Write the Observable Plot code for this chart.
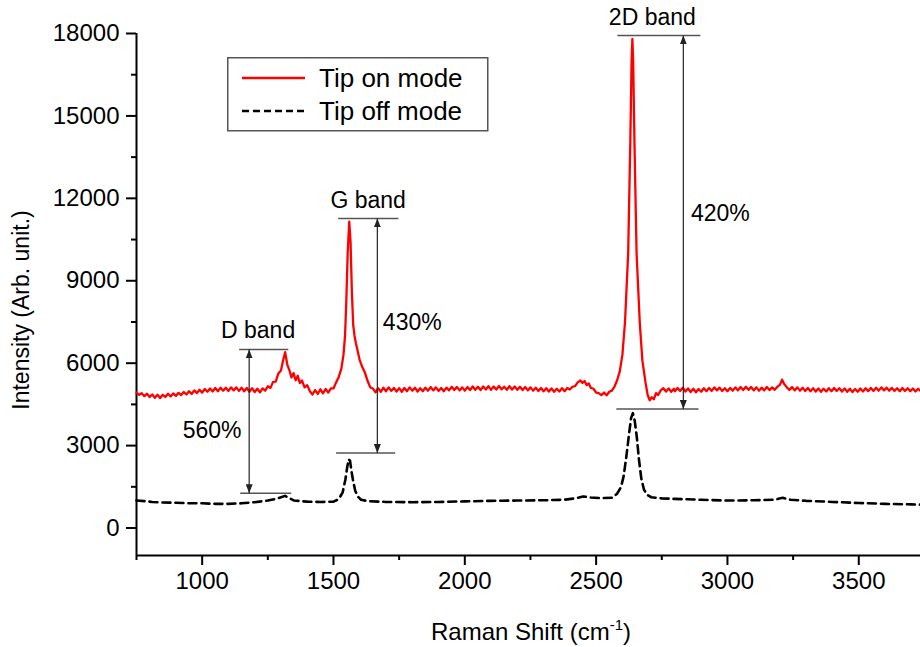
<!DOCTYPE html>
<html><head><meta charset="utf-8">
<script src="https://cdn.jsdelivr.net/npm/d3@7"></script>
<script src="https://cdn.jsdelivr.net/npm/@observablehq/plot@0.6"></script>
<style>
body{margin:0;background:#fff;}
#wrap{position:relative;width:920px;height:647px;font-family:"Liberation Sans",Arial,sans-serif;}
#legend{position:absolute;left:227px;top:57px;}
</style></head>
<body><div id="wrap"></div>
<script>
// Tip on mode spectrum: [Raman shift (cm-1), intensity]
const tipOn = [
[750,4930],[760,4850],[770,4910],[780,4800],[790,4890],[800,4770],[810,4860],[820,4740],[830,4850],[840,4730],
[850,4850],[860,4770],[870,4890],[880,4790],[890,4900],[900,4810],[910,4920],[920,4840],[930,4950],[940,4860],
[950,4980],[960,4880],[970,5010],[980,4910],[990,5030],[1000,4930],[1010,5060],[1020,4960],[1030,5080],[1040,4970],
[1050,5100],[1060,4980],[1070,5110],[1080,5000],[1090,5110],[1100,4990],[1110,5120],[1120,5010],[1130,5120],[1140,4990],
[1150,5110],[1160,4980],[1170,5100],[1180,4960],[1190,5090],[1200,4950],[1210,5070],[1220,4940],[1230,5080],[1240,5000],
[1250,5160],[1260,5100],[1270,5320],[1280,5330],[1290,5620],[1300,5730],[1308,6100],[1316,6400],[1324,5950],[1332,5750],
[1340,5480],[1348,5640],[1356,5380],[1364,5540],[1372,5280],[1380,5370],[1390,5120],[1400,5200],[1410,4980],[1420,4860],
[1430,5020],[1440,4880],[1450,5050],[1460,4900],[1470,5060],[1480,4930],[1490,5080],[1500,5080],[1510,5300],[1520,5500],
[1530,5800],[1538,6300],[1544,7000],[1549,8300],[1554,10000],[1560,11150],[1565,10400],[1570,8600],[1575,7400],[1580,7000],
[1586,6700],[1592,6450],[1600,6100],[1610,5850],[1620,5650],[1630,5350],[1640,5120],[1650,5080],[1660,4940],[1670,5090],
[1680,4960],[1690,5110],[1700,4980],[1710,5120],[1720,4990],[1730,5100],[1740,4970],[1750,5090],[1760,4960],[1770,5100],
[1780,4980],[1790,5120],[1800,5000],[1810,5110],[1820,4970],[1830,5090],[1840,4980],[1850,5110],[1860,5000],[1870,5130],
[1880,5010],[1890,5120],[1900,4990],[1910,5100],[1920,4980],[1930,5110],[1940,5010],[1950,5140],[1960,5020],[1970,5130],
[1980,5010],[1990,5120],[2000,5000],[2010,5130],[2020,5020],[2030,5150],[2040,5030],[2050,5140],[2060,5020],[2070,5150],
[2080,5040],[2090,5160],[2100,5030],[2110,5150],[2120,5040],[2130,5170],[2140,5050],[2150,5140],[2160,5030],[2170,5160],
[2180,5040],[2190,5150],[2200,5030],[2210,5140],[2220,5020],[2230,5130],[2240,5010],[2250,5120],[2260,5000],[2270,5110],
[2280,4990],[2290,5100],[2300,4980],[2310,5090],[2320,4970],[2330,5080],[2340,4960],[2350,5070],[2360,4970],[2370,5090],
[2380,4980],[2390,5100],[2400,5040],[2410,5140],[2420,5170],[2430,5300],[2440,5370],[2448,5280],[2456,5350],[2464,5200],
[2472,5260],[2480,5100],[2490,5070],[2500,4930],[2510,4910],[2520,4840],[2530,4930],[2540,4830],[2550,4960],[2560,5000],
[2570,5150],[2580,5380],[2590,5700],[2600,6300],[2610,7500],[2622,10000],[2630,14000],[2635,17000],[2638,17800],[2641,17000],
[2646,14000],[2654,10000],[2666,7500],[2676,6100],[2688,5300],[2696,4850],[2704,4650],[2712,4760],[2720,4690],[2728,4910],
[2736,4840],[2746,5010],[2756,5090],[2766,4970],[2776,5080],[2786,4960],[2796,5070],[2800,4980],[2810,5100],[2820,4990],
[2830,5110],[2840,4970],[2850,5080],[2860,4950],[2870,5070],[2880,4940],[2890,5060],[2900,4960],[2910,5090],[2920,4980],
[2930,5100],[2940,4990],[2950,5120],[2960,5010],[2970,5110],[2980,4990],[2990,5090],[3000,4980],[3010,5100],[3020,5000],
[3030,5120],[3040,5010],[3050,5130],[3060,5020],[3070,5140],[3080,5030],[3090,5130],[3100,5010],[3110,5120],[3120,5000],
[3130,5110],[3140,5010],[3150,5130],[3160,5020],[3170,5120],[3180,5030],[3190,5140],[3200,5220],[3208,5400],[3216,5240],
[3226,5120],[3236,5030],[3246,5130],[3256,5010],[3266,5120],[3276,5000],[3286,5110],[3296,4990],[3306,5100],[3316,4980],
[3326,5090],[3336,4970],[3346,5080],[3356,4960],[3366,5070],[3376,4970],[3386,5090],[3396,4980],[3406,5100],[3416,4990],
[3426,5090],[3436,4970],[3446,5080],[3456,4960],[3466,5070],[3476,4950],[3486,5060],[3496,4960],[3506,5080],[3516,4970],
[3526,5090],[3536,4980],[3546,5100],[3556,4990],[3566,5110],[3576,5000],[3586,5120],[3596,5010],[3606,5110],[3616,5000],
[3626,5100],[3636,4990],[3646,5090],[3656,4980],[3666,5100],[3676,4990],[3686,5090],[3696,4980],[3706,5080],[3716,4970],
[3726,5070],[3735,4990]
];
// Tip off mode spectrum
const tipOff = [
[750,1000],[780,980],[810,950],[850,930],[900,920],[950,900],[1000,900],[1050,880],[1100,880],[1150,900],
[1200,940],[1250,1000],[1280,1060],[1300,1120],[1316,1170],[1330,1100],[1350,1000],[1400,960],[1450,950],[1500,960],
[1520,1050],[1535,1300],[1545,1750],[1552,2200],[1558,2500],[1563,2450],[1568,2100],[1575,1700],[1583,1350],[1592,1150],
[1605,1030],[1630,980],[1700,950],[1800,940],[1900,950],[2000,970],[2100,990],[2200,1000],[2300,1010],[2380,1030],
[2420,1080],[2450,1150],[2480,1110],[2520,1090],[2560,1100],[2580,1250],[2595,1500],[2605,1900],[2615,2600],[2625,3400],
[2633,4000],[2640,4180],[2647,3900],[2655,3300],[2663,2500],[2672,1800],[2682,1400],[2695,1200],[2710,1120],[2750,1080],
[2800,1060],[2900,1030],[3000,1000],[3100,1010],[3180,1030],[3210,1100],[3240,1030],[3300,990],[3400,950],[3500,910],
[3600,880],[3700,860],[3735,850]
];
const seriesNames = ["Tip on mode", "Tip off mode"];
const xTicks = [1000, 1500, 2000, 2500, 3000, 3500];
const xMinorTicks = [750, 1250, 1750, 2250, 2750, 3250];
const yTicks = [0, 3000, 6000, 9000, 12000, 15000, 18000];
const yMinorTicks = [1500, 4500, 7500, 10500, 13500, 16500];
const xDomain = [750, 3735];
const yDomain = [-1000, 18000];

// band annotations
const bandNames = ["D band", "G band", "2D band"];
const bandLabelX = [1213, 1632, 2714];
const bandLabelY = [7200, 11930, 18580];
const bandTopY = [6500, 11270, 17930];
const bandTopX1 = [1141, 1518, 2581];
const bandTopX2 = [1328, 1747, 2897];
const bandBottomY = [1270, 2730, 4330];
const bandBottomX1 = [1145, 1510, 2577];
const bandBottomX2 = [1339, 1735, 2890];
const bandArrowX = [1179, 1667, 2832];
const pctLabels = ["560%", "430%", "420%"];
const pctX = [1038, 1800, 2973];
const pctY = [3560, 7490, 11450];

const bands = bandNames.map((name, i) => ({
  name, lx: bandLabelX[i], ly: bandLabelY[i],
  ty: bandTopY[i], tx1: bandTopX1[i], tx2: bandTopX2[i],
  by: bandBottomY[i], bx1: bandBottomX1[i], bx2: bandBottomX2[i],
  ax: bandArrowX[i], pct: pctLabels[i], px: pctX[i], py: pctY[i]
}));

const FONT = '"Liberation Sans", Arial, sans-serif';

function headMarker(color) {
  const m = d3.create("svg:marker")
    .attr("viewBox", "0 -3.5 9 7")
    .attr("markerWidth", 9).attr("markerHeight", 7)
    .attr("markerUnits", "userSpaceOnUse")
    .attr("refX", 9).attr("refY", 0)
    .attr("orient", "auto-start-reverse");
  m.append("path").attr("d", "M0,-3.5L9,0L0,3.5Z").attr("fill", "#222").attr("stroke", "none");
  return m.node();
}

function build(marker) {
  return Plot.plot({
    width: 920, height: 647,
    marginLeft: 136, marginRight: 0, marginTop: 33, marginBottom: 92,
    style: {fontFamily: FONT, fontSize: "24px", background: "#fff", color: "#000", overflow: "visible"},
    x: {domain: xDomain, label: null},
    y: {domain: yDomain, label: null},
    marks: [
      Plot.axisY({ticks: yTicks, tickSize: 10, tickPadding: 7, strokeWidth: 2, fontSize: 24, tickFormat: d3.format("d"), label: null}),
      Plot.axisY({ticks: yMinorTicks, tickSize: 5, strokeWidth: 2, text: null, label: null}),
      Plot.axisX({ticks: xTicks, tickSize: 10, tickPadding: 6, strokeWidth: 2, fontSize: 24, tickFormat: d3.format("d"), label: null}),
      Plot.axisX({ticks: xMinorTicks, tickSize: 5, strokeWidth: 2, text: null, label: null}),
      Plot.ruleX([xDomain[0]], {stroke: "#000", strokeWidth: 2}),
      Plot.ruleY([yDomain[0]], {stroke: "#000", strokeWidth: 2}),
      Plot.line(tipOff, {x: d => d[0], y: d => d[1], stroke: "#000", strokeWidth: 2.6, strokeDasharray: "8,5"}),
      Plot.line(tipOn, {x: d => d[0], y: d => d[1], stroke: "#ff0000", strokeWidth: 2.3}),
      Plot.link(bands, {x1: "tx1", x2: "tx2", y1: "ty", y2: "ty", stroke: "#555", strokeWidth: 1.5}),
      Plot.link(bands, {x1: "bx1", x2: "bx2", y1: "by", y2: "by", stroke: "#555", strokeWidth: 1.5}),
      Plot.link(bands, {x1: "ax", x2: "ax", y1: "by", y2: "ty", stroke: "#222", strokeWidth: 1.2, markerStart: marker, markerEnd: marker}),
      Plot.text(bands, {x: "lx", y: "ly", text: "name", fontSize: 23, fill: "#000"}),
      Plot.text(bands, {x: "px", y: "py", text: "pct", fontSize: 23, fill: "#000"})
    ]
  });
}

let chart;
try { chart = build(headMarker); } catch (e) { chart = build("arrow"); }

const svg = d3.select(chart);
// axis titles
svg.append("text")
  .attr("transform", "translate(23,310) rotate(-90)")
  .attr("text-anchor", "middle").attr("dominant-baseline", "middle")
  .attr("font-size", 23).attr("font-family", FONT).attr("fill", "#000")
  .text("Intensity (Arb. unit.)");
const xt = svg.append("text")
  .attr("x", 531).attr("y", 640)
  .attr("text-anchor", "middle")
  .attr("font-size", 24).attr("font-family", FONT).attr("fill", "#000");
xt.append("tspan").text("Raman Shift (cm");
xt.append("tspan").attr("dy", -10).attr("font-size", 15).text("-1");
xt.append("tspan").attr("dy", 10).text(")");

const wrap = document.getElementById("wrap");
wrap.appendChild(chart);

// legend
const leg = d3.select(wrap).append("svg").attr("id", "legend")
  .attr("width", 262).attr("height", 76);
leg.append("rect").attr("x", 0.75).attr("y", 0.75).attr("width", 260).attr("height", 73)
  .attr("fill", "#fff").attr("stroke", "#555").attr("stroke-width", 1.5);
const legStyles = [{stroke: "#ff0000", dash: null, w: 2.5}, {stroke: "#000", dash: "7,4", w: 2.5}];
seriesNames.forEach((name, i) => {
  const cy = 21 + i * 33;
  leg.append("line").attr("x1", 15).attr("x2", 78).attr("y1", cy).attr("y2", cy)
    .attr("stroke", legStyles[i].stroke).attr("stroke-width", legStyles[i].w)
    .attr("stroke-dasharray", legStyles[i].dash);
  leg.append("text").attr("x", 92).attr("y", cy).attr("dominant-baseline", "central")
    .attr("font-size", 26).attr("font-family", FONT).attr("fill", "#000").text(name);
});
</script>
</body></html>
